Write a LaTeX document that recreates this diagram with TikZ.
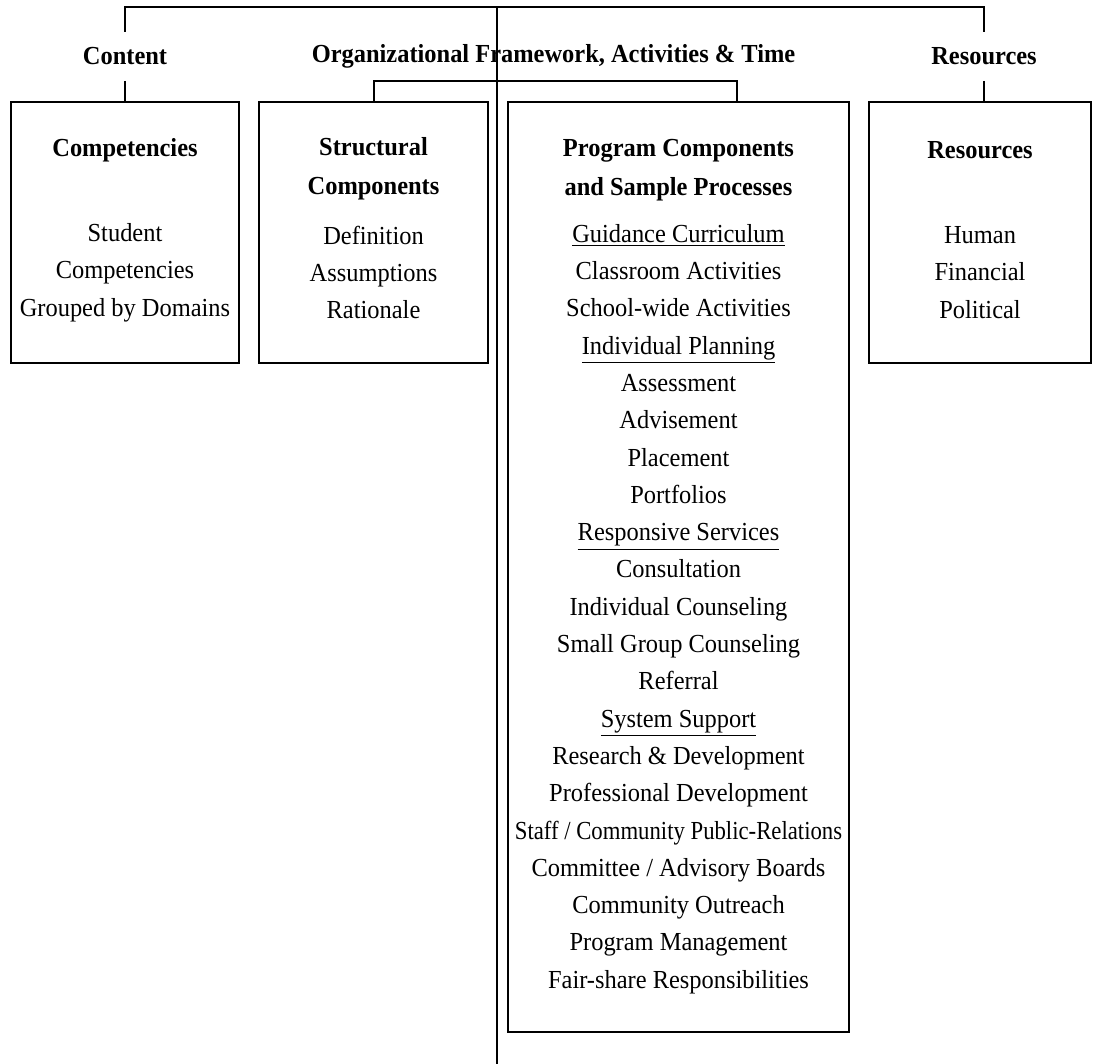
\documentclass[tikz,border=0pt]{standalone}
\usepackage{fontspec}
\setmainfont{Liberation Serif}[FakeStretch=0.94]
\usepackage{graphicx}
\usepackage{tikz}

\begin{document}
\begin{tikzpicture}[x=0.5pt, y=-0.5pt, line width=1pt,
  box/.style={draw, rectangle, inner sep=0},
  head/.style={font=\fontsize{13}{18.65}\selectfont\bfseries, inner sep=0, minimum height=23.5pt},
  title/.style={font=\fontsize{13}{19.5}\selectfont\bfseries, align=center, inner sep=0},
  items/.style={font=\fontsize{13}{18.65}\selectfont, align=center, inner sep=0}]
  \useasboundingbox (0,0) rectangle (1093,1064);

  % Headers
  \node[head] (hcont) at (125,56.5) {Content};
  \node[head] (horg) at (553.5,56.5) {Organizational Framework, Activities \& Time};
  \node[head] (hres) at (984,56.5) {Resources};

  % Boxes
  \node[box, minimum width=114pt, minimum height=130.5pt] (comp) at (125,232.5) {};
  \node[box, minimum width=114.5pt, minimum height=130.5pt] (struct) at (373.5,232.5) {};
  \node[box, minimum width=170.5pt, minimum height=465pt] (prog) at (678.5,567) {};
  \node[box, minimum width=111pt, minimum height=130.5pt] (res) at (980,232.5) {};

  % Box texts
  \node[title] (compt) at (125,150) {Competencies};
  \node[items] (compl) at (125,272.5) {Student\\Competencies\\Grouped by Domains};
  \node[title] (structt) at (373.5,169) {Structural\\Components};
  \node[items] (structl) at (373.5,272.5) {Definition\\Assumptions\\Rationale};
  \node[title] (progt) at (678.5,170) {Program Components\\and Sample Processes};
  \node[items] (progl) at (678.5,609) {\underline{Guidance Curriculum}\\Classroom Activities\\School-wide Activities\\
    \underline{Individual Planning}\\Assessment\\Advisement\\Placement\\Portfolios\\
    \underline{Responsive Services}\\Consultation\\Individual Counseling\\Small Group Counseling\\Referral\\
    \underline{System Support}\\Research \& Development\\Professional Development\\
    \scalebox{0.93}[1]{Staff / Community Public-Relations}\\Committee / Advisory Boards\\
    Community Outreach\\Program Management\\Fair-share Responsibilities};
  \node[title] (rest) at (980,150) {Resources};
  \node[items] (resl) at (980,272.5) {Human\\Financial\\Political};

  % Connectors
  \coordinate (rail) at (497,7);
  \coordinate (railend) at (497,1064);
  \coordinate (brk) at (737,81);
  \draw (hcont.north) |- (rail) -| (hres.north);
  \draw (hcont.south) -- (comp.north);
  \draw (hres.south) -- (hres.south |- res.north);
  \draw (struct.north) |- (brk) -- (brk |- prog.north);
  \draw (rail) -- (railend);
\end{tikzpicture}
\end{document}
